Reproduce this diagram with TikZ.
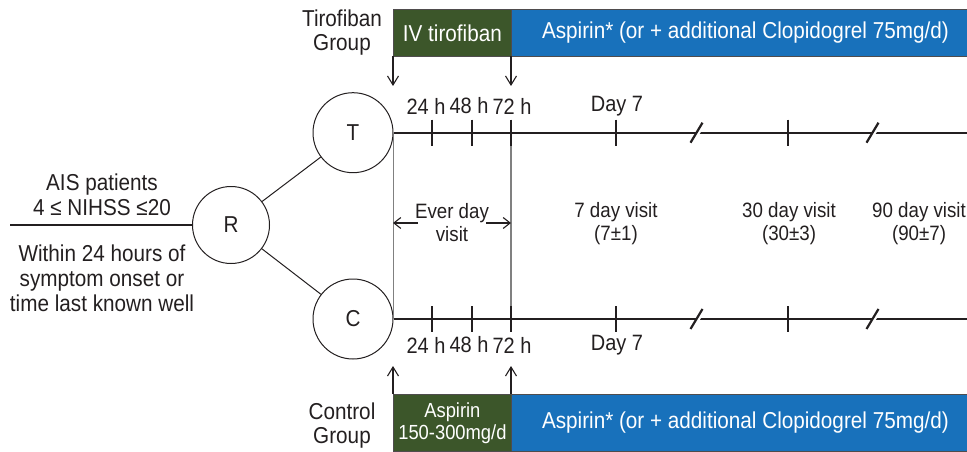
\documentclass[tikz,border=0pt]{standalone}
\usepackage{fontspec}
\setmainfont{Liberation Sans}[FakeStretch=0.9]
\usetikzlibrary{arrows.meta}
\definecolor{ivgreen}{RGB}{60,86,42}
\definecolor{aspblue}{RGB}{24,113,187}
\definecolor{ink}{RGB}{35,31,32}
\definecolor{guide}{RGB}{128,128,128}

\begin{document}
\begin{tikzpicture}[x=1pt,y=-1pt,
  every node/.style={font=\fontsize{23}{24}\selectfont, text=ink, inner sep=0pt},
  armcircle/.style={circle, draw=ink, line width=1pt, minimum size=80pt},
  rndcircle/.style={circle, draw=ink, line width=1pt, minimum size=77pt},
  drugbox/.style={draw=ink!80, line width=0.8pt, text=white, anchor=north west, align=center},
  timeline/.style={draw=ink, line width=1.7pt},
  tickmark/.style={draw=ink, line width=1.7pt},
  guideline/.style={draw=guide, line width=1.5pt},
  startarrow/.style={draw=ink, line width=1.3pt, -{Straight Barb[length=9pt,width=11pt,line width=1.1pt]}},
  spanarrow/.style={draw=ink, line width=1.2pt, -{Straight Barb[length=7pt,width=11pt,line width=1.1pt]}},
  label/.style={align=center},
  timelabel/.style={font=\fontsize{22.2}{24}\selectfont},
  visitlabel/.style={align=center, font=\fontsize{20.8}{23}\selectfont}
]
\useasboundingbox (0,0) rectangle (967,452);

% randomisation and the two arms
\node[rndcircle] (R) at (231,225) {R};
\node[armcircle] (T) at (353,132.7) {T};
\node[armcircle] (C) at (353,319) {C};
\coordinate (entry) at (10,225);
\draw[ink, line width=1.7pt] (entry) -- (R.west);
\draw[ink, line width=1pt] (R) -- (T);
\draw[ink, line width=1pt] (R) -- (C);

% inclusion criteria
\node[label, font=\fontsize{23}{25}\selectfont] (crit1) at (102,194.5) {AIS patients\\4 ≤ NIHSS ≤20};
\node[label, font=\fontsize{23}{25}\selectfont] (crit2) at (102,278) {Within 24 hours of\\symptom onset or\\time last known well};

% tirofiban group treatment bars
\node[label] (tgroup) at (342,33) {Tirofiban\\Group};
\node[drugbox, fill=ivgreen, minimum width=118pt, minimum height=46.4pt] (ivt) at (393,9.3) {IV tirofiban};
\node[drugbox, fill=aspblue, minimum width=468pt, minimum height=46.4pt] (aspT) at (511,9.3) {Aspirin* (or + additional Clopidogrel 75mg/d)};

% control group treatment bars
\node[label] (cgroup) at (342,426) {Control\\Group};
\node[drugbox, fill=ivgreen, minimum width=118pt, minimum height=57pt,
      font=\fontsize{20.4}{22}\selectfont] (aspC0) at (393,394) {Aspirin\\150-300mg/d};
\node[drugbox, fill=aspblue, minimum width=468pt, minimum height=57pt] (aspC) at (511,394) {Aspirin* (or + additional Clopidogrel 75mg/d)};

% timelines
\coordinate (tEnd) at (967,132.7);
\coordinate (cEnd) at (967,319);
\draw[timeline] (T.east) -- (tEnd);
\draw[timeline] (C.east) -- (cEnd);

% vertical guides
\coordinate (g72t) at (511,132.7);
\coordinate (g72c) at (511,319);
\draw[guideline] (T.east) -- (C.east);
\draw[guideline] (g72t) -- (g72c);

% ticks
\foreach \x in {432,472,511,616,788} {
  \draw[tickmark] (\x,119.7) -- (\x,145.7);
  \draw[tickmark] (\x,306) -- (\x,332);
}

% axis breaks
\foreach \x/\y in {697/132.7,873/132.7,697/319,873/319} {
  \draw[white, line width=3.5pt] (\x-5,\y+10) -- (\x+7,\y-9);
  \draw[ink, line width=2.2pt] (\x-6.5,\y+10) -- (\x+5.5,\y-10);
}

% start-of-treatment arrows
\coordinate (tStart) at (393,86);
\coordinate (t72) at (511,86);
\coordinate (cStart) at (393,366);
\coordinate (c72) at (511,366);
\draw[startarrow] (ivt.south west) -- (tStart);
\draw[startarrow] (aspT.south west) -- (t72);
\draw[startarrow] (aspC0.north west) -- (cStart);
\draw[startarrow] (aspC.north west) -- (c72);

% time labels
\foreach \x/\t in {426/24 h,469/48 h,512/72 h,617/Day 7} {
  \node[timelabel] (tl\x) at (\x,106) {\t};
  \node[timelabel] (cl\x) at (\x,345) {\t};
}

% visit windows
\node[visitlabel] (ever) at (452,222.5) {Ever day\\visit};
\coordinate (everL) at (393,223);
\coordinate (everR) at (511,223);
\coordinate (everLs) at (418,223);
\coordinate (everRs) at (486,223);
\draw[spanarrow] (everLs) -- (everL);
\draw[spanarrow] (everRs) -- (everR);
\node[visitlabel] (v7) at (616,224) {7 day visit\\(7±1)};
\node[visitlabel] (v30) at (789,224) {30 day visit\\(30±3)};
\node[visitlabel] (v90) at (919,224) {90 day visit\\(90±7)};
\end{tikzpicture}
\end{document}
